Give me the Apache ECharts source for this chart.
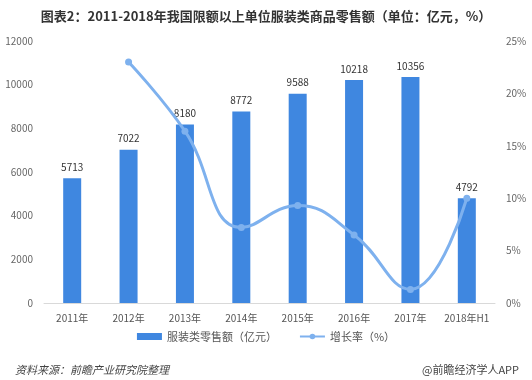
<!DOCTYPE html>
<html><head><meta charset="utf-8">
<script src="https://cdn.jsdelivr.net/npm/echarts@6/dist/echarts.min.js"></script>
<style>html,body{margin:0;padding:0;background:#fff;}#c{width:532px;height:380px;}</style>
</head><body><div id="c"></div>
<script>
var categories = ['2011年','2012年','2013年','2014年','2015年','2016年','2017年','2018年H1'];
var salesValues = [5713, 7022, 8180, 8772, 9588, 10218, 10356, 4792];
var growthValues = [null, 23.0, 16.4, 7.2, 9.3, 6.5, 1.3, 10.0];
var leftTicks = {min: 0, max: 12000, interval: 2000};
var rightTicks = {min: 0, max: 25, interval: 5};
var titleText = '图表2：2011-2018年我国限额以上单位服装类商品零售额（单位：亿元，%）';
var sourceText = '资料来源：前瞻产业研究院整理';
var brandText = '@前瞻经济学人APP';

var font = '"Microsoft YaHei","Noto Sans CJK SC",sans-serif';
var chart = echarts.init(document.getElementById('c'));
chart.setOption({
  animation: false,
  textStyle: {fontFamily: font},
  title: [
    {text: titleText, left: 'center', top: 5, textStyle: {fontSize: 13, fontWeight: 'bold', color: '#333', fontFamily: font}},
    {text: sourceText, left: 10, top: 359, textStyle: {fontSize: 11, fontWeight: 'normal', fontStyle: 'italic', color: '#444', fontFamily: font}},
    {text: brandText, right: 8, top: 359, textStyle: {fontSize: 11, fontWeight: 'normal', color: '#444', fontFamily: font}}
  ],
  legend: {
    bottom: 33, left: 'center', itemGap: 22, itemWidth: 25, itemHeight: 7,
    textStyle: {fontSize: 11, color: '#555', fontFamily: font},
    data: [
      {name: '服装类零售额（亿元）', icon: 'rect'},
      {name: '增长率（%）'}
    ]
  },
  grid: {left: 44, right: 37, top: 41, bottom: 77},
  xAxis: {
    type: 'category', data: categories,
    axisLine: {lineStyle: {color: '#d9d9d9'}},
    axisTick: {show: false},
    axisLabel: {color: '#555', fontSize: 10, margin: 10, interval: 0}
  },
  yAxis: [
    {type: 'value', min: leftTicks.min, max: leftTicks.max, interval: leftTicks.interval,
     axisLine: {show: false}, axisTick: {show: false}, splitLine: {show: false},
     axisLabel: {color: '#666', fontSize: 10, margin: 11, formatter: function (v) { return String(v); }}},
    {type: 'value', min: rightTicks.min, max: rightTicks.max, interval: rightTicks.interval,
     axisLine: {show: false}, axisTick: {show: false}, splitLine: {show: false},
     axisLabel: {color: '#666', fontSize: 10, margin: 11, formatter: '{value}%'}}
  ],
  series: [
    {name: '服装类零售额（亿元）', type: 'bar', data: salesValues, barWidth: 18,
     itemStyle: {color: '#3f87e0'},
     label: {show: true, position: 'top', color: '#333', fontSize: 10, distance: 6}},
    {name: '增长率（%）', type: 'line', yAxisIndex: 1, data: growthValues, smooth: 0.45,
     symbol: 'circle', symbolSize: 7, connectNulls: false,
     lineStyle: {color: '#7eb1ee', width: 3},
     itemStyle: {color: '#7eb1ee'}}
  ]
});
</script></body></html>
